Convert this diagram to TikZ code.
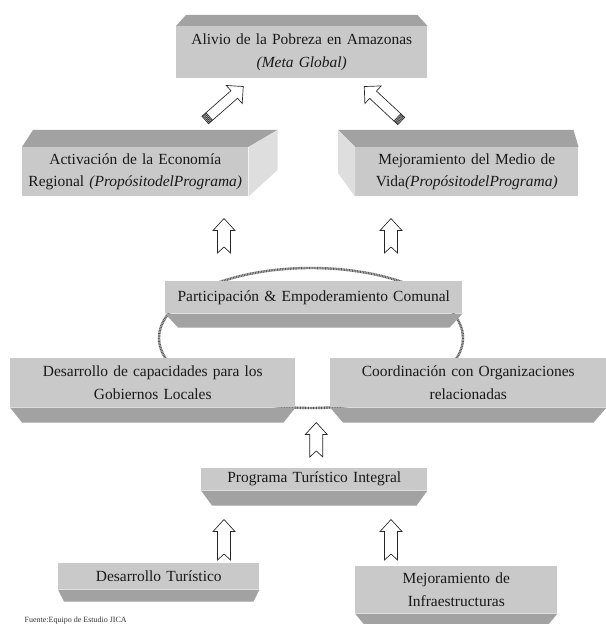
\documentclass[tikz,border=0pt]{standalone}
\usepackage{fontspec}
\setmainfont{Liberation Serif}
\usetikzlibrary{calc,positioning}
\definecolor{gris1}{HTML}{C9C9C9}
\definecolor{gris2}{HTML}{A2A2A2}
\definecolor{gris3}{HTML}{DEDEDE}
\colorlet{cface}{gris1}
\colorlet{cbevel}{gris2}
\colorlet{cside}{gris3}
\newlength{\pxu}
\setlength{\pxu}{0.75pt}
\tikzset{
  panel/.style={fill=cface, inner sep=0pt, anchor=north west, align=center,
    font=\fontsize{11.6}{16.8}\selectfont, text=black!90},
  bevel/.style={fill=cbevel},
  side/.style={fill=cside},
  ring/.style={draw=gray!45, line width=1.8pt,
    postaction={draw=gray!70!black, line width=1.8pt, dash pattern=on 0.6pt off 0.6pt}},
  hollow/.style={draw=black!85, fill=white, line width=0.5pt,
    to path={
      ($(\tikztostart)!4.5pt!(\tikztotarget)$)
      -- ($(\tikztostart)!4.9pt!-90:(\tikztotarget)$)
      -- ($(\tikztotarget)!9pt!(\tikztostart)!4.9pt!90:(\tikztostart)$)
      -- ($(\tikztotarget)!9pt!(\tikztostart)!8.25pt!90:(\tikztostart)$)
      -- (\tikztotarget)
      -- ($(\tikztotarget)!9pt!(\tikztostart)!8.25pt!-90:(\tikztostart)$)
      -- ($(\tikztotarget)!9pt!(\tikztostart)!4.9pt!-90:(\tikztostart)$)
      -- ($(\tikztostart)!4.9pt!90:(\tikztotarget)$)
      -- cycle}},
  hollowstriped/.style={draw=black!85, fill=white, line width=0.5pt,
    to path={
      ($(\tikztostart)!3.75pt!-90:(\tikztotarget)$)
      -- ($(\tikztotarget)!9pt!(\tikztostart)!3.75pt!90:(\tikztostart)$)
      -- ($(\tikztotarget)!9pt!(\tikztostart)!9pt!90:(\tikztostart)$)
      -- (\tikztotarget)
      -- ($(\tikztotarget)!9pt!(\tikztostart)!9pt!-90:(\tikztostart)$)
      -- ($(\tikztotarget)!9pt!(\tikztostart)!3.75pt!-90:(\tikztostart)$)
      -- ($(\tikztostart)!3.75pt!90:(\tikztotarget)$)
      -- cycle
      ($(\tikztostart)!1pt!(\tikztotarget)!3.75pt!90:(\tikztotarget)$)
      -- ($(\tikztostart)!1pt!(\tikztotarget)!3.75pt!-90:(\tikztotarget)$)
      ($(\tikztostart)!2pt!(\tikztotarget)!3.75pt!90:(\tikztotarget)$)
      -- ($(\tikztostart)!2pt!(\tikztotarget)!3.75pt!-90:(\tikztotarget)$)
      ($(\tikztostart)!3pt!(\tikztotarget)!3.75pt!90:(\tikztotarget)$)
      -- ($(\tikztostart)!3pt!(\tikztotarget)!3.75pt!-90:(\tikztotarget)$)
      ($(\tikztostart)!4pt!(\tikztotarget)!3.75pt!90:(\tikztotarget)$)
      -- ($(\tikztostart)!4pt!(\tikztotarget)!3.75pt!-90:(\tikztotarget)$)}}
}
\begin{document}
\begin{tikzpicture}[x=1\pxu, y=-1\pxu]
  \useasboundingbox (0,0) rectangle (606,624);
  % ring behind the middle panels
  \draw[ring] (311,338) ellipse [x radius=152, y radius=70];

  \path
  (176,26) node[panel, text width=251\pxu, minimum height=52\pxu] (meta)
    {Alivio de la Pobreza en Amazonas\\\textit{(Meta Global)}}
  (22,147) node[panel, text width=226\pxu, minimum height=49\pxu] (propEco)
    {Activación de la Economía\\Regional \textit{(PropósitodelPrograma)}}
  (355,147) node[panel, text width=223\pxu, minimum height=49\pxu] (propVida)
    {Mejoramiento del Medio de\\Vida\textit{(PropósitodelPrograma)}}
  (165,281) node[panel, text width=297\pxu, minimum height=32\pxu] (partic)
    {Participación \& Empoderamiento Comunal}
  (10,358) node[panel, text width=285\pxu, minimum height=49\pxu] (capac)
    {Desarrollo de capacidades para los\\Gobiernos Locales}
  (330,358) node[panel, text width=276\pxu, minimum height=49\pxu] (coord)
    {Coordinación con Organizaciones\\relacionadas}
  (201,468) node[panel, text width=226\pxu, minimum height=22\pxu] (progTur)
    {Programa Turístico Integral}
  (58,563) node[panel, text width=201\pxu, minimum height=26\pxu] (desTur)
    {Desarrollo Turístico}
  (355,566) node[panel, text width=202\pxu, minimum height=47\pxu] (infra)
    {Mejoramiento de\\Infraestructuras}
  (20,621) node[anchor=west, font=\fontsize{6}{7}\selectfont, text=black!80] (fuente)
    {Fuente:Equipo de Estudio JICA}
  ;

  % bevels
  \fill[bevel] (meta.north west) -- (meta.north east) -- ++(-10,-11)
    -- ($(meta.north west)+(10,-11)$) -- cycle;
  \fill[bevel] (propEco.north west) -- (propEco.north east) -- ++(29,-17)
    -- ($(propEco.north west)+(11,-17)$) -- cycle;
  \fill[side] (propEco.north east) -- ++(29,-17) -- ++(0,40) -- (propEco.south east) -- cycle;
  \fill[bevel] (propVida.north west) -- (propVida.north east) -- ++(-5,-17)
    -- ($(propVida.north west)+(-17,-17)$) -- cycle;
  \fill[side] (propVida.north west) -- ++(-17,-17) -- ++(0,43) -- (propVida.south west) -- cycle;
  \foreach \n/\d/\i in {partic/14/13, capac/15/12, coord/15/13, progTur/15/11,
                        desTur/12/6, infra/12/10}
    \fill[bevel] (\n.south west) -- (\n.south east) -- ++(-\i,\d)
      -- ($(\n.south west)+(\i,\d)$) -- cycle;

  % arrows
  \coordinate (colL) at (224,0);
  \coordinate (colR) at (391,0);
  \coordinate (ecoTail) at ($(propEco.north)+(70,-27)$);
  \coordinate (ecoTip) at ($(meta.south)+(-58.5,8)$);
  \coordinate (vidaTail) at ($(propVida.north)+(-65.5,-26)$);
  \coordinate (vidaTip) at ($(meta.south)+(62.5,8)$);
  \coordinate (pLtail) at ($(partic.north -| colL)+(0,-28)$);
  \coordinate (pLtip) at ($(propEco.south -| colL)+(0,22)$);
  \coordinate (pRtail) at ($(partic.north -| colR)+(0,-28)$);
  \coordinate (pRtip) at ($(propVida.south -| colR)+(0,22)$);
  \coordinate (ptTail) at ($(progTur.north)+(2,-11)$);
  \coordinate (ptTip) at ($(capac.south -| ptTail)+(0,15)$);
  \coordinate (dtTail) at ($(desTur.north -| colL)+(0,-3)$);
  \coordinate (dtTip) at ($(progTur.south -| colL)+(0,29)$);
  \coordinate (inTail) at ($(infra.north -| colR)+(0,-6)$);
  \coordinate (inTip) at ($(progTur.south -| colR)+(0,29)$);

  \draw[hollowstriped] (ecoTail) to (ecoTip);
  \draw[hollowstriped] (vidaTail) to (vidaTip);
  \draw[hollow] (pLtail) to (pLtip);
  \draw[hollow] (pRtail) to (pRtip);
  \draw[hollow] (ptTail) to (ptTip);
  \draw[hollow] (dtTail) to (dtTip);
  \draw[hollow] (inTail) to (inTip);
\end{tikzpicture}
\end{document}
